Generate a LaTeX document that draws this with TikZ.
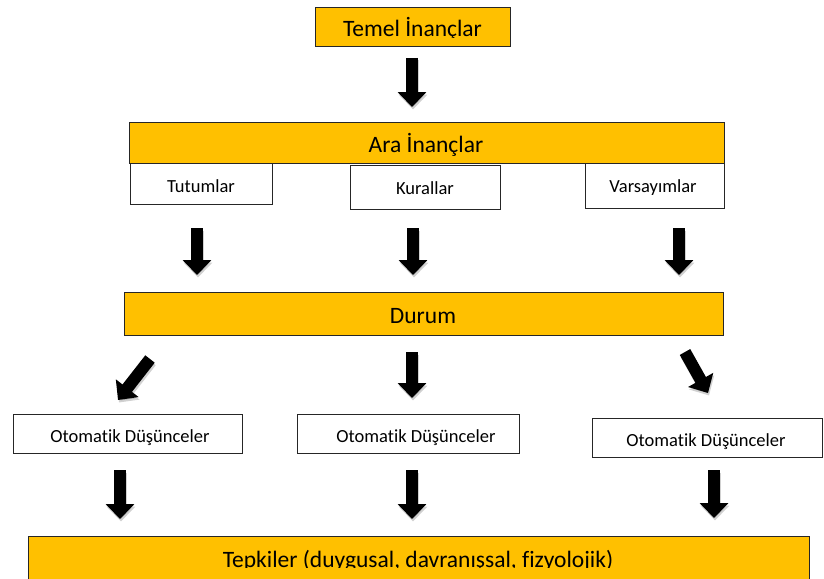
\documentclass[tikz,border=0pt]{standalone}
\usepackage{fontspec}
\setmainfont{Carlito}[Ligatures={NoCommon}]
\usetikzlibrary{arrows.meta}
\definecolor{gold}{HTML}{FFC000}
\definecolor{edge}{HTML}{262626}
\tikzset{
  box/.style={draw=edge, line width=1pt, inner sep=0pt},
  goldbox/.style={box, fill=gold},
  whitebox/.style={box, fill=white},
  bigtext/.style={inner sep=0pt, font=\fontsize{23.5}{28}\selectfont, anchor=base},
  smalltext/.style={inner sep=0pt, font=\fontsize{18.5}{22}\selectfont, anchor=base},
  blockarrow/.style={line width=12pt, black, -{Triangle[width=28pt,length=15pt]}},
  arrowshadow/.style={line width=12pt, black, opacity=0.18, -{Triangle[width=28pt,length=15pt]}, transform canvas={shift={(1pt,-2.5pt)}}}
}
\begin{document}
\begin{tikzpicture}[x=1pt,y=-1pt]
\clip (0,0) rectangle (824,578);
\fill[white] (0,0) rectangle (824,578);

% boxes
\node[goldbox, minimum width=195pt, minimum height=39pt] (temel) at (412.5,27.5) {};
\begin{scope}
  \clip (315,8) rectangle (510,37.4);
  \node[bigtext] (temeltxt) at (412.5,37) {Temel İnançlar};
\end{scope}

\node[goldbox, minimum width=595pt, minimum height=41pt] (ara) at (426.5,142.5) {};
\node[bigtext] (aratxt) at (426,152) {Ara İnançlar};
\node[whitebox, minimum width=142pt, minimum height=41pt] (tut) at (201,184) {};
\node[smalltext] (tuttxt) at (201,192) {Tutumlar};
\node[whitebox, minimum width=150pt, minimum height=44pt] (kur) at (425,187) {};
\node[smalltext] (kurtxt) at (425,194) {Kurallar};
\node[whitebox, minimum width=139pt, minimum height=45pt] (var) at (654.5,185.5) {};
\node[smalltext] (vartxt) at (653,192) {Varsayımlar};

\node[goldbox, minimum width=599pt, minimum height=43pt] (durum) at (423.5,313.5) {};
\node[bigtext] (durumtxt) at (423,323) {Durum};

\node[whitebox, minimum width=229pt, minimum height=39pt] (ot1) at (127.5,433.5) {};
\node[smalltext] (ot1txt) at (130,442) {Otomatik Düşünceler};
\node[whitebox, minimum width=222pt, minimum height=39pt] (ot2) at (408,433.5) {};
\node[smalltext] (ot2txt) at (416,442) {Otomatik Düşünceler};
\node[whitebox, minimum width=230pt, minimum height=39pt] (ot3) at (707,437.5) {};
\node[smalltext] (ot3txt) at (706,446) {Otomatik Düşünceler};

\node[goldbox, minimum width=781pt, minimum height=70pt] (tep) at (418.5,571) {};
\begin{scope}
  \clip (28,536) rectangle (809,567.4);
  \node[bigtext] (teptxt) at (418,567) {Tepkiler (duygusal, davranışsal, fizyolojik)};
\end{scope}

% arrow end points
\coordinate (a1s) at (412,58);  \coordinate (a1e) at (412,107);
\coordinate (b1s) at (197,228); \coordinate (b1e) at (197,275);
\coordinate (b2s) at (413,228); \coordinate (b2e) at (413,275);
\coordinate (b3s) at (679,228); \coordinate (b3e) at (679,275);
\coordinate (c1s) at (150,359); \coordinate (c1e) at (118,400);
\coordinate (c2s) at (412,352); \coordinate (c2e) at (412,398);
\coordinate (c3s) at (685,352); \coordinate (c3e) at (708,393);
\coordinate (d1s) at (120,470); \coordinate (d1e) at (120,519);
\coordinate (d2s) at (412,470); \coordinate (d2e) at (412,519);
\coordinate (d3s) at (714,470); \coordinate (d3e) at (714,518);

\foreach \s/\e in {a1s/a1e,b1s/b1e,b2s/b2e,b3s/b3e,c1s/c1e,c2s/c2e,c3s/c3e,d1s/d1e,d2s/d2e,d3s/d3e}{
  \draw[arrowshadow] (\s) -- (\e);
  \draw[blockarrow] (\s) -- (\e);
}
\end{tikzpicture}
\end{document}
